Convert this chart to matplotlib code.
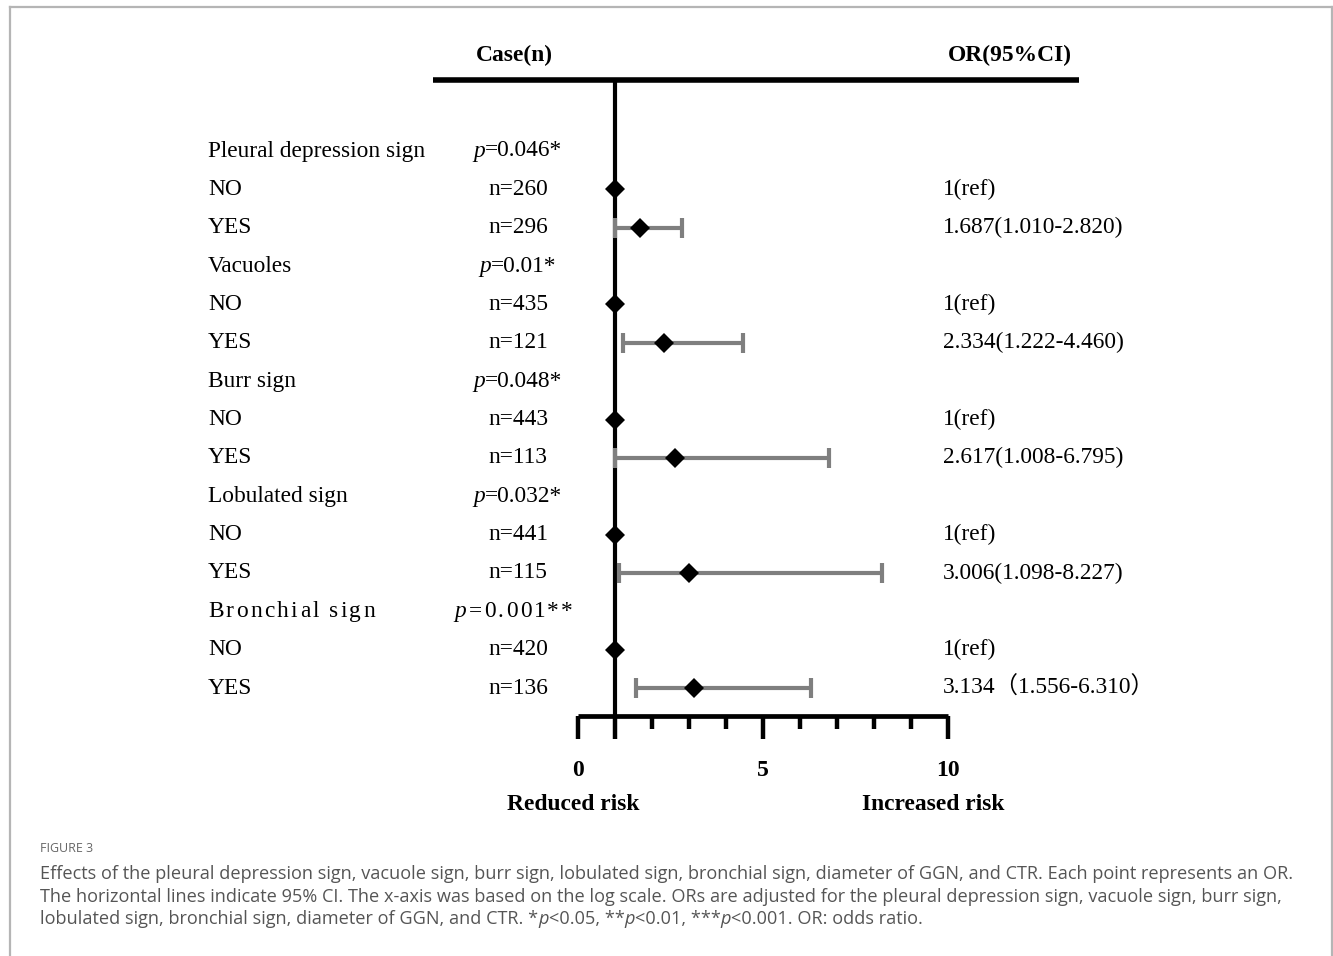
import matplotlib
matplotlib.use("Agg")
import matplotlib.pyplot as plt
from matplotlib import transforms
from matplotlib.lines import Line2D

# ---------------- data ----------------
groups = ["Pleural depression sign", "Vacuoles", "Burr sign", "Lobulated sign", "Bronchial sign"]
p_values = ["=0.046*", "=0.01*", "=0.048*", "=0.032*", "=0.001**"]
n_no = [260, 435, 443, 441, 420]
n_yes = [296, 121, 113, 115, 136]
or_yes = [1.687, 2.334, 2.617, 3.006, 3.134]
ci_low = [1.010, 1.222, 1.008, 1.098, 1.556]
ci_high = [2.820, 4.460, 6.795, 8.227, 6.310]
or_text = ["1.687(1.010-2.820)", "2.334(1.222-4.460)", "2.617(1.008-6.795)",
           "3.006(1.098-8.227)", "3.134\uff081.556-6.310\uff09"]
ref_value = 1.0
x_ticks_major = [0, 1, 5, 10]
x_tick_labels = ["0", "", "5", "10"]
x_ticks_minor = [2, 3, 4, 6, 7, 8, 9]

W, H = 1333, 956
fig = plt.figure(figsize=(W / 100, H / 100), dpi=100)
SERIF = ["Liberation Serif", "DejaVu Serif"]
SERIF_CJK = ["Liberation Serif", "Noto Sans CJK SC"]

def fx(px):
    return px / W

def fy(py):
    return 1 - py / H

# axes geometry (pixels)
x0_px, x10_px = 578, 948
top_px, bot_px = 80, 716
row0_px, row_step = 151, 38.36
y_top = (top_px - row0_px) / row_step
y_bot = (bot_px - row0_px) / row_step

ax = fig.add_axes([fx(x0_px), fy(bot_px), (x10_px - x0_px) / W, (bot_px - top_px) / H])
ax.set_xlim(0, 10)
ax.set_ylim(y_bot, y_top)
for s in ["top", "left", "right"]:
    ax.spines[s].set_visible(False)
ax.spines["bottom"].set_linewidth(3.4)
ax.spines["bottom"].set_capstyle("butt")
ax.set_yticks([])
ax.set_xticks(x_ticks_major)
ax.set_xticklabels(x_tick_labels)
ax.set_xticks(x_ticks_minor, minor=True)
ax.tick_params(axis="x", which="major", length=16.5, width=3.2, pad=15,
               labelsize=17)
ax.tick_params(axis="x", which="minor", length=9.5, width=3.2)
for lab in ax.get_xticklabels():
    lab.set_fontfamily(SERIF)
    lab.set_fontweight("bold")
ax.patch.set_alpha(0)

# top horizontal rule and reference line
xl = (433 - x0_px) / 37.0
xr = (1079 - x0_px) / 37.0
ax.plot([xl, xr], [y_top, y_top], color="black", lw=4, clip_on=False,
        solid_capstyle="butt", zorder=2)
ax.plot([ref_value, ref_value], [y_top, y_bot], color="black", lw=3,
        clip_on=False, solid_capstyle="butt", zorder=2)

rows_no = [3 * i + 1 for i in range(len(groups))]
rows_yes = [3 * i + 2 for i in range(len(groups))]
rows_grp = [3 * i for i in range(len(groups))]

xerr = [[o - l for o, l in zip(or_yes, ci_low)], [h - o for o, h in zip(or_yes, ci_high)]]
ax.errorbar(or_yes, rows_yes, xerr=xerr, fmt="none", ecolor="#7f7f7f",
            elinewidth=3, capsize=7.2, capthick=3, zorder=3, clip_on=False)
ax.plot(or_yes, rows_yes, "D", color="black", ms=10.5, mew=0, zorder=4, clip_on=False)
ax.plot([ref_value] * len(rows_no), rows_no, "D", color="black", ms=10.5, mew=0,
        zorder=4, clip_on=False)

# text
tr = transforms.blended_transform_factory(fig.transFigure, ax.transData)
FS = 16.8
renderer = fig.canvas.get_renderer()

def spaced(x_px, y, s, track, **kw):
    """draw string char by char with extra tracking (pixels)"""
    x = x_px
    for ch in s:
        t = fig.text(fx(x), y, ch, transform=tr, **kw)
        bb = t.get_window_extent(renderer)
        x += bb.width + track
    return x

def width_of(s, **kw):
    t = fig.text(0, 0, s, **kw)
    w = t.get_window_extent(renderer).width
    t.remove()
    return w

for i, g in enumerate(groups):
    kw = dict(fontsize=FS, family=SERIF, va="center", ha="left")
    if i == 4:
        spaced(208, rows_grp[i], g, 2.3, **kw)
    else:
        fig.text(fx(208), rows_grp[i], g, transform=tr, **kw)
    fig.text(fx(208), rows_no[i], "NO", transform=tr, **kw)
    fig.text(fx(208), rows_yes[i], "YES", transform=tr, **kw)

    # p values centered at ~518 px
    cx = 518
    if i == 4:
        track = 2.2
        wp = width_of("p", fontsize=FS, family=SERIF, style="italic")
        wr = sum(width_of(c, fontsize=FS, family=SERIF) + track for c in p_values[i])
        start = cx - (wp + track + wr) / 2 - 3
        fig.text(fx(start), rows_grp[i], "p", transform=tr, style="italic", **kw)
        spaced(start + wp + track, rows_grp[i], p_values[i], track, **kw)
    else:
        wp = width_of("p", fontsize=FS, family=SERIF, style="italic")
        wr = width_of(p_values[i], fontsize=FS, family=SERIF)
        start = cx - (wp + wr) / 2
        fig.text(fx(start), rows_grp[i], "p", transform=tr, style="italic", **kw)
        fig.text(fx(start + wp), rows_grp[i], p_values[i], transform=tr, **kw)

    fig.text(fx(518), rows_no[i], f"n={n_no[i]}", transform=tr, fontsize=FS,
             family=SERIF, va="center", ha="center")
    fig.text(fx(518), rows_yes[i], f"n={n_yes[i]}", transform=tr, fontsize=FS,
             family=SERIF, va="center", ha="center")
    fig.text(fx(943), rows_no[i], "1(ref)", transform=tr, fontsize=FS,
             family=SERIF, va="center", ha="left")
    fig.text(fx(943), rows_yes[i], or_text[i], transform=tr, fontsize=FS,
             family=SERIF_CJK if i == 4 else SERIF, va="center", ha="left")

# headers
HFS = 16.9
fig.text(fx(514), fy(55), "Case(n)", fontsize=HFS, family=SERIF, weight="bold",
         ha="center", va="center")
fig.text(fx(1010), fy(55), "OR(95%CI)", fontsize=HFS, family=SERIF, weight="bold",
         ha="center", va="center")
fig.text(fx(573), fy(805), "Reduced risk", fontsize=HFS, family=SERIF, weight="bold",
         ha="center", va="center")
fig.text(fx(933), fy(805), "Increased risk", fontsize=HFS, family=SERIF, weight="bold",
         ha="center", va="center")

# border
bc = "#b5b5b5"
fig.add_artist(Line2D([fx(10), fx(1332)], [fy(7), fy(7)], color=bc, lw=1.6,
                      transform=fig.transFigure))
fig.add_artist(Line2D([fx(10), fx(10)], [fy(7), 0], color=bc, lw=1.6,
                      transform=fig.transFigure))
fig.add_artist(Line2D([fx(1332), fx(1332)], [fy(7), 0], color=bc, lw=1.6,
                      transform=fig.transFigure))

# caption
CAP = ["Open Sans", "DejaVu Sans"]
cc = "#555555"
cfs = 13.1
fig.text(fx(40), fy(849), "FIGURE 3", fontsize=9, family=CAP, color="#666666",
         ha="left", va="center")
line1 = ("Effects of the pleural depression sign, vacuole sign, burr sign, lobulated sign, "
         "bronchial sign, diameter of GGN, and CTR. Each point represents an OR.")
line2 = ("The horizontal lines indicate 95% CI. The x-axis was based on the log scale. "
         "ORs are adjusted for the pleural depression sign, vacuole sign, burr sign,")
fig.text(fx(40), fy(874), line1, fontsize=cfs, family=CAP, color=cc, ha="left", va="center")
fig.text(fx(40), fy(897), line2, fontsize=cfs, family=CAP, color=cc, ha="left", va="center")
runs = [("lobulated sign, bronchial sign, diameter of GGN, and CTR. *", "normal"),
        ("p", "italic"), ("<0.05, **", "normal"), ("p", "italic"),
        ("<0.01, ***", "normal"), ("p", "italic"), ("<0.001. OR: odds ratio.", "normal")]
x = 40
for s, st in runs:
    t = fig.text(fx(x), fy(919), s, fontsize=cfs, family=CAP, color=cc, style=st,
                 ha="left", va="center")
    x += t.get_window_extent(renderer).width

fig.savefig("out.png", dpi=100)
